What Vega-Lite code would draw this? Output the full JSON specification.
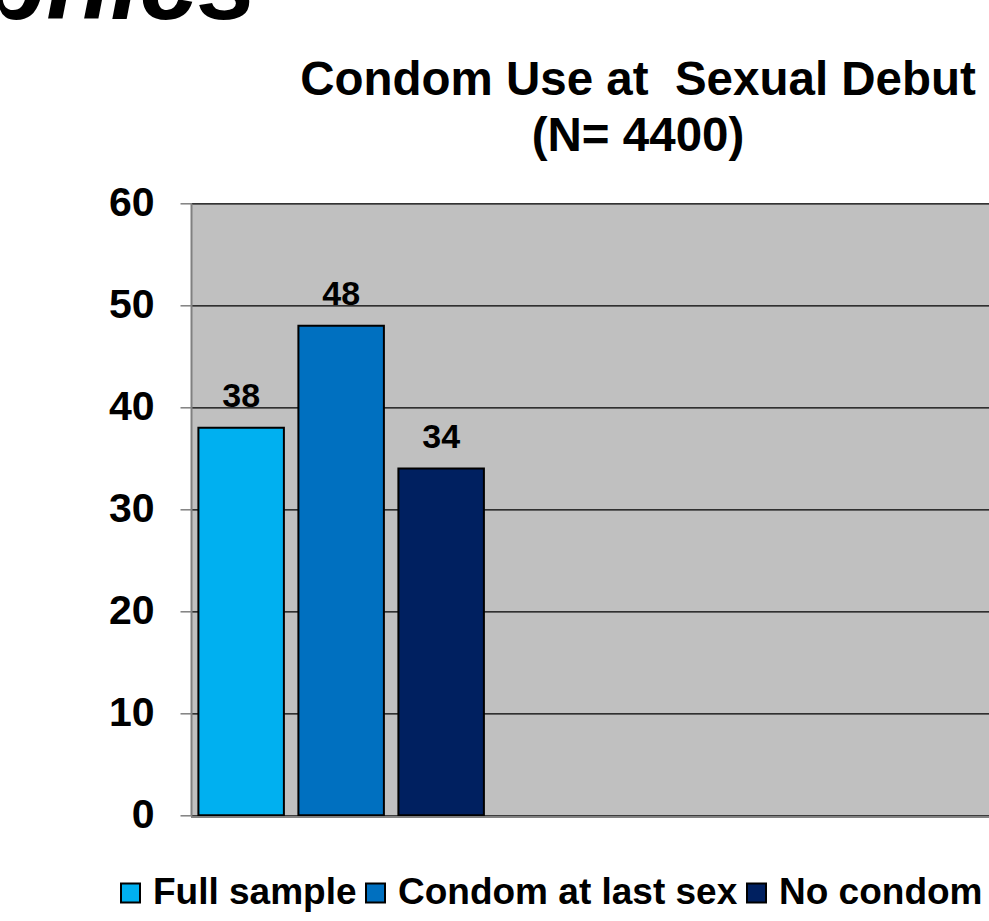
{
  "$schema": "https://vega.github.io/schema/vega-lite/v6.json",
  "autosize": {"type": "none"},
  "padding": {"left": 191, "top": 203.3, "right": 798, "bottom": 717.7},
  "background": "white",
  "title": {
    "text": "Demographics",
    "anchor": "start",
    "align": "right",
    "baseline": "alphabetic",
    "dx": 148,
    "dy": 115,
    "offset": 48,
    "font": "Liberation Sans",
    "fontSize": 105,
    "fontWeight": "bold",
    "fontStyle": "italic",
    "color": "black"
  },
  "vconcat": [
    {
      "title": {
        "text": ["Condom Use at\u00a0 Sexual Debut", "(N= 4400)"],
        "anchor": "middle",
        "baseline": "bottom",
        "offset": 40,
        "dy": 66,
        "font": "Liberation Sans",
        "fontSize": 47.5,
        "lineHeight": 56,
        "fontWeight": "bold",
        "color": "black"
      },
      "width": 894,
      "height": 612,
      "view": {"fill": "#C0C0C0", "stroke": null},
      "data": {
        "values": [
          {"question": "Condom use at sexual debut", "series": "Full sample", "percent": 38},
          {"question": "Condom use at sexual debut", "series": "Condom at last sex", "percent": 48},
          {"question": "Condom use at sexual debut", "series": "No condom at last sex", "percent": 34}
        ]
      },
      "encoding": {
        "x": {
          "field": "question",
          "type": "nominal",
          "scale": {"paddingInner": 0, "paddingOuter": 0},
          "axis": null
        },
        "xOffset": {
          "field": "series",
          "type": "nominal",
          "sort": null,
          "scale": {
            "domain": ["Full sample", "Condom at last sex", "No condom at last sex"],
            "range": [0, 300.3],
            "paddingInner": 0.145,
            "paddingOuter": 0.074
          }
        },
        "y": {
          "field": "percent",
          "type": "quantitative",
          "scale": {"domain": [0, 60], "nice": false, "zero": true},
          "axis": {
            "title": null,
            "values": [0, 10, 20, 30, 40, 50, 60],
            "grid": true,
            "gridColor": "black",
            "gridWidth": 1.3,
            "gridOpacity": 1,
            "domainColor": "#808080",
            "domainWidth": 2,
            "tickColor": "#808080",
            "tickWidth": 1.5,
            "tickSize": 11,
            "labelPadding": 26,
            "labelFont": "Liberation Sans",
            "labelFontSize": 41,
            "labelFontWeight": "bold",
            "labelColor": "black"
          }
        }
      },
      "layer": [
        {
          "mark": {"type": "bar", "stroke": "black", "strokeWidth": 2},
          "encoding": {
            "color": {
              "field": "series",
              "type": "nominal",
              "sort": null,
              "scale": {
                "domain": ["Full sample", "Condom at last sex", "No condom at last sex"],
                "range": ["#00B0F0", "#0070C0", "#002060"]
              },
              "legend": {
                "title": null,
                "orient": "none",
                "direction": "horizontal",
                "legendX": -79,
                "legendY": 671,
                "padding": 0,
                "symbolType": "square",
                "symbolSize": 361,
                "symbolStrokeColor": "black",
                "symbolStrokeWidth": 2,
                "symbolOpacity": 1,
                "labelFont": "Liberation Sans",
                "labelFontSize": 37,
                "labelFontWeight": "bold",
                "labelColor": "black",
                "labelOffset": 4,
                "labelLimit": 0,
                "columnPadding": -4
              }
            }
          }
        },
        {
          "mark": {
            "type": "text",
            "baseline": "alphabetic",
            "dy": -21,
            "font": "Liberation Sans",
            "fontSize": 34,
            "fontWeight": "bold",
            "color": "black"
          },
          "encoding": {
            "text": {"field": "percent", "type": "quantitative"}
          }
        },
        {
          "mark": {"type": "rule", "color": "#808080", "strokeWidth": 1.5, "yOffset": 1.7},
          "encoding": {"y": {"datum": 0}, "x": null, "xOffset": null}
        }
      ]
    }
  ]
}
